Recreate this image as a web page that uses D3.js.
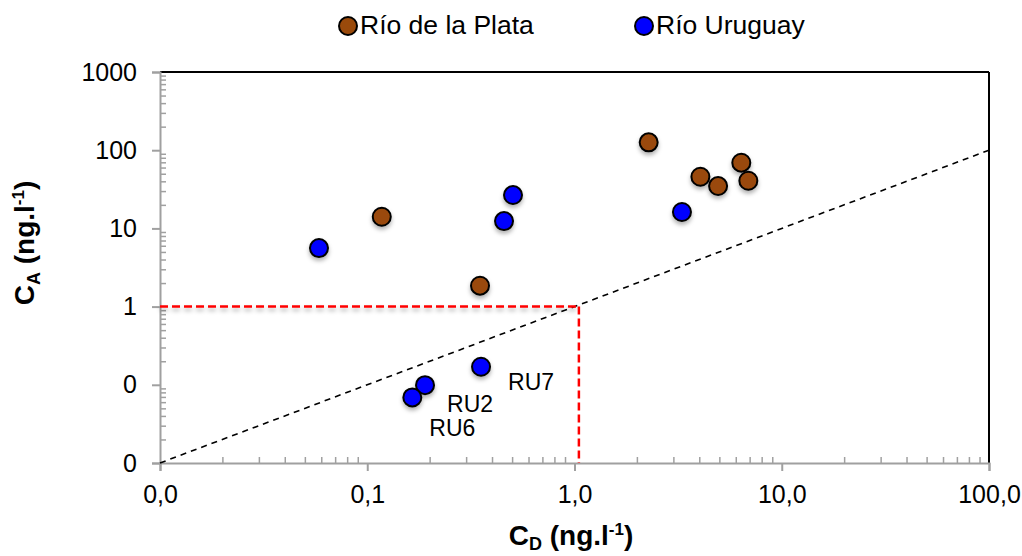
<!DOCTYPE html>
<html>
<head>
<meta charset="utf-8">
<script src="https://cdn.jsdelivr.net/npm/d3@7"></script>
<style>
  html, body { margin: 0; padding: 0; background: #fff; }
  svg { display: block; font-family: "Liberation Sans", Arial, sans-serif; }
</style>
</head>
<body>
<svg id="chart" width="1022" height="556"></svg>
<script>
// ---- data ----
const seriesNames = ["Río de la Plata", "Río Uruguay"];
const seriesColors = ["#9a4a0b", "#0000ff"];
const plataX = [0.1175, 0.350, 2.28, 4.05, 4.93, 6.38, 6.90];
const plataY = [14.1, 1.85, 126, 45.8, 34.8, 69.2, 40.7];
const uruguayX = [0.0585, 0.457, 0.505, 3.30, 0.354, 0.190, 0.165];
const uruguayY = [5.6, 12.4, 26.7, 16.2, 0.170, 0.099, 0.069];
const uruguayLabels = ["", "", "", "", "RU7", "RU2", "RU6"];
const xTickValues = [0.01, 0.1, 1, 10, 100];
const xTickLabels = ["0,0", "0,1", "1,0", "10,0", "100,0"];
const yTickValues = [0.01, 0.1, 1, 10, 100, 1000];
const yTickLabels = ["0", "0", "1", "10", "100", "1000"];
const thresholdX = 1.05;
const thresholdY = 1;
const oneToOne = [0.01, 100];

(function () {
// ---- layout ----
const svg = d3.select("#chart");
const pL = 160, pR = 989, pT = 72, pB = 463;
const x = d3.scaleLog().domain([0.01, 100]).range([pL, pR]);
const y = d3.scaleLog().domain([0.01, 1000]).range([pB, pT]);

const defs = svg.append("defs");
const f = defs.append("filter").attr("id", "shadow")
  .attr("filterUnits", "userSpaceOnUse")
  .attr("x", 0).attr("y", 0).attr("width", 1022).attr("height", 556);
f.append("feDropShadow").attr("dx", 0).attr("dy", 3).attr("stdDeviation", 2)
  .attr("flood-color", "#000").attr("flood-opacity", 0.3);

const axisColor = "#a0a0a0";
const tickFont = 25;

// frame top/right
svg.append("line").attr("x1", pL).attr("x2", pR).attr("y1", pT).attr("y2", pT)
  .attr("stroke", "#000").attr("stroke-width", 2);
svg.append("line").attr("x1", pR).attr("x2", pR).attr("y1", pT).attr("y2", pB)
  .attr("stroke", "#000").attr("stroke-width", 2);

// minor ticks
const minorX = [];
for (let d = 0.01; d < 99; d *= 10) for (let k = 2; k <= 9; k++) minorX.push(d * k);
const minorY = [];
for (let d = 0.01; d < 999; d *= 10) for (let k = 2; k <= 9; k++) minorY.push(d * k);

// x axis
const xAxis = d3.axisBottom(x).tickValues(xTickValues)
  .tickFormat((d, i) => xTickLabels[i]).tickSize(8).tickPadding(14);
const gx = svg.append("g").attr("transform", `translate(0,${pB})`).call(xAxis);
gx.select(".domain").attr("stroke", axisColor).attr("stroke-width", 2);
gx.selectAll(".tick line").attr("stroke", axisColor).attr("stroke-width", 2);
gx.selectAll(".tick text").attr("font-size", tickFont).attr("fill", "#000")
  .attr("font-family", "'Liberation Sans', Arial, sans-serif");
const gxm = svg.append("g").attr("transform", `translate(0,${pB})`)
  .call(d3.axisTop(x).tickValues(minorX).tickFormat("").tickSize(6));
gxm.select(".domain").remove();
gxm.selectAll(".tick line").attr("stroke", axisColor).attr("stroke-width", 1.5);

// y axis
const yAxis = d3.axisLeft(y).tickValues(yTickValues)
  .tickFormat((d, i) => yTickLabels[i]).tickSize(8).tickPadding(15);
const gy = svg.append("g").attr("transform", `translate(${pL},0)`).call(yAxis);
gy.select(".domain").attr("stroke", axisColor).attr("stroke-width", 2);
gy.selectAll(".tick line").attr("stroke", axisColor).attr("stroke-width", 2);
gy.selectAll(".tick text").attr("font-size", tickFont).attr("fill", "#000")
  .attr("font-family", "'Liberation Sans', Arial, sans-serif");
const gym = svg.append("g").attr("transform", `translate(${pL},0)`)
  .call(d3.axisRight(y).tickValues(minorY).tickFormat("").tickSize(6));
gym.select(".domain").remove();
gym.selectAll(".tick line").attr("stroke", axisColor).attr("stroke-width", 1.5);

// 1:1 line
svg.append("line")
  .attr("x1", x(oneToOne[0])).attr("y1", y(oneToOne[0]))
  .attr("x2", x(oneToOne[1])).attr("y2", y(oneToOne[1]))
  .attr("stroke", "#000").attr("stroke-width", 1.6).attr("stroke-dasharray", "6,5");

// red threshold lines
svg.append("path")
  .attr("d", `M${x(0.01)},${y(thresholdY)}H${x(thresholdX)}`)
  .attr("stroke", "#ff0000").attr("stroke-width", 2.5).attr("fill", "none")
  .attr("stroke-dasharray", "8,4").attr("filter", "url(#shadow)");
svg.append("path")
  .attr("d", `M${x(thresholdX)},${y(thresholdY)}V${y(0.01)}`)
  .attr("stroke", "#ff0000").attr("stroke-width", 2.5).attr("fill", "none")
  .attr("stroke-dasharray", "8,4");

// points
function drawSeries(xs, ys, color) {
  svg.append("g").selectAll("circle").data(xs).join("circle")
    .attr("cx", d => x(d)).attr("cy", (d, i) => y(ys[i])).attr("r", 9)
    .attr("fill", color).attr("stroke", "#000").attr("stroke-width", 2)
    .attr("filter", "url(#shadow)");
}
drawSeries(plataX, plataY, seriesColors[0]);
drawSeries(uruguayX, uruguayY, seriesColors[1]);

// point labels
const labelOffsets = { "RU7": [27, 23], "RU2": [22, 27], "RU6": [17, 39] };
svg.append("g").selectAll("text")
  .data(uruguayLabels.map((l, i) => ({ l, i })).filter(d => d.l))
  .join("text")
  .attr("x", d => x(uruguayX[d.i]) + labelOffsets[d.l][0])
  .attr("y", d => y(uruguayY[d.i]) + labelOffsets[d.l][1])
  .attr("font-size", 23).attr("fill", "#000").text(d => d.l);

// legend
const legendX = [348, 644];
seriesNames.forEach((n, i) => {
  svg.append("circle").attr("cx", legendX[i]).attr("cy", 26).attr("r", 9)
    .attr("fill", seriesColors[i]).attr("stroke", "#000").attr("stroke-width", 2);
  svg.append("text").attr("x", legendX[i] + 12).attr("y", 34)
    .attr("font-size", 26.5).attr("fill", "#000").text(n);
});

// axis titles
const titleFont = 28;
const xt = svg.append("text").attr("x", 571).attr("y", 545).attr("text-anchor", "middle")
  .attr("font-size", titleFont).attr("font-weight", "bold");
xt.append("tspan").text("C");
xt.append("tspan").attr("font-size", 18).attr("dy", 5).text("D");
xt.append("tspan").attr("dy", -5).text(" (ng.l");
xt.append("tspan").attr("font-size", 17).attr("dy", -10).text("-1");
xt.append("tspan").attr("dy", 10).text(")");

const yt = svg.append("text").attr("transform", "translate(34,243) rotate(-90)")
  .attr("text-anchor", "middle").attr("font-size", titleFont).attr("font-weight", "bold");
yt.append("tspan").text("C");
yt.append("tspan").attr("font-size", 18).attr("dy", 6).text("A");
yt.append("tspan").attr("dy", -6).text(" (ng.l");
yt.append("tspan").attr("font-size", 17).attr("dy", -10).text("-1");
yt.append("tspan").attr("dy", 10).text(")");
})();
</script>
</body>
</html>
